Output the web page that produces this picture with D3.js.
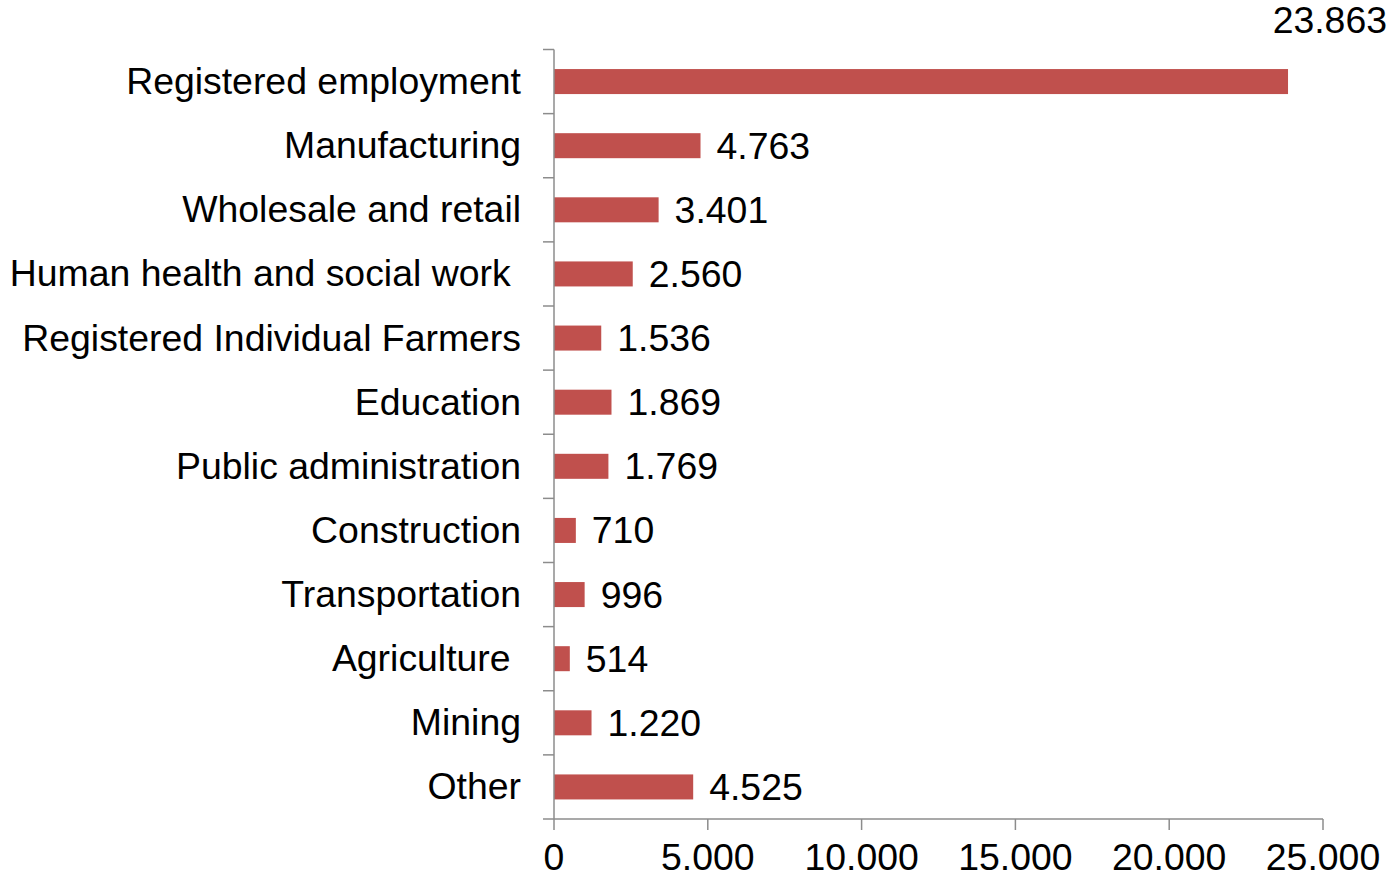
<!DOCTYPE html>
<html><head><meta charset="utf-8">
<script src="https://cdn.jsdelivr.net/npm/d3@7"></script>
<style>html,body{margin:0;padding:0;background:#fff;}svg{display:block;}</style>
</head><body>
<script>
const categories = ["Registered employment","Manufacturing","Wholesale and retail","Human health and social work ","Registered Individual Farmers","Education","Public administration","Construction","Transportation","Agriculture ","Mining","Other"];
const values = [23863,4763,3401,2560,1536,1869,1769,710,996,514,1220,4525];
const valueLabels = ["23.863","4.763","3.401","2.560","1.536","1.869","1.769","710","996","514","1.220","4.525"];
const xTicks = [0,5000,10000,15000,20000,25000];
const xTickLabels = ["0","5.000","10.000","15.000","20.000","25.000"];

(function(){
const W = 1396, H = 879;
const mLeft = 554, mRight = 1323, mTop = 49.5, mBottom = 819;
const font = "Arial, 'Liberation Sans', sans-serif";
const fs = 37.4;
const axisColor = "#8c8c8c";

const svg = d3.select("body").append("svg").attr("width", W).attr("height", H);
const x = d3.scaleLinear().domain([0, 25000]).range([mLeft, mRight]);
const y = d3.scaleBand().domain(categories).range([mTop, mBottom]).paddingInner(0.61).paddingOuter(0.305);
const yb = d3.scaleBand().domain(categories).range([mTop, mBottom]);

svg.selectAll("rect.bar").data(values).enter().append("rect")
  .attr("class","bar")
  .attr("x", x(0)).attr("y", (d,i)=>y(categories[i]))
  .attr("width", d=>x(d)-x(0)).attr("height", y.bandwidth())
  .attr("fill","#C0504D");

const g = svg.append("g").attr("stroke", axisColor).attr("stroke-width", 1.5).attr("fill","none");
g.append("line").attr("x1", mLeft).attr("x2", mLeft).attr("y1", mTop).attr("y2", mBottom);
const yTickPos = categories.map(c=>yb(c)).concat([mBottom]);
g.selectAll("line.yt").data(yTickPos).enter().append("line")
  .attr("x1", mLeft-11).attr("x2", mLeft).attr("y1", d=>d).attr("y2", d=>d);
g.append("line").attr("x1", mLeft).attr("x2", mRight).attr("y1", mBottom).attr("y2", mBottom);
g.selectAll("line.xt").data(xTicks).enter().append("line")
  .attr("x1", d=>x(d)).attr("x2", d=>x(d)).attr("y1", mBottom).attr("y2", mBottom+11);

svg.selectAll("text.cat").data(categories).enter().append("text")
  .attr("x", mLeft-33).attr("y", d=>yb(d)+yb.bandwidth()/2+12.5)
  .attr("text-anchor","end").attr("font-family", font).attr("font-size", fs)
  .attr("fill","#000").style("white-space","pre").text(d=>d);

svg.selectAll("text.xt").data(xTicks).enter().append("text")
  .attr("x", d=>x(d)).attr("y", mBottom+51)
  .attr("text-anchor","middle").attr("font-family", font).attr("font-size", fs)
  .attr("fill","#000").text((d,i)=>xTickLabels[i]);

svg.selectAll("text.val").data(values).enter().append("text")
  .each(function(d,i){
    const cy = yb(categories[i]) + yb.bandwidth()/2;
    const t = d3.select(this);
    if (x(d) + 16 + 110 > W) {
      t.attr("x", W-9).attr("y", cy-49).attr("text-anchor","end");
    } else {
      t.attr("x", x(d)+16).attr("y", cy+13).attr("text-anchor","start");
    }
  })
  .attr("font-family", font).attr("font-size", fs).attr("fill","#000")
  .text((d,i)=>valueLabels[i]);
})();
</script>
</body></html>
